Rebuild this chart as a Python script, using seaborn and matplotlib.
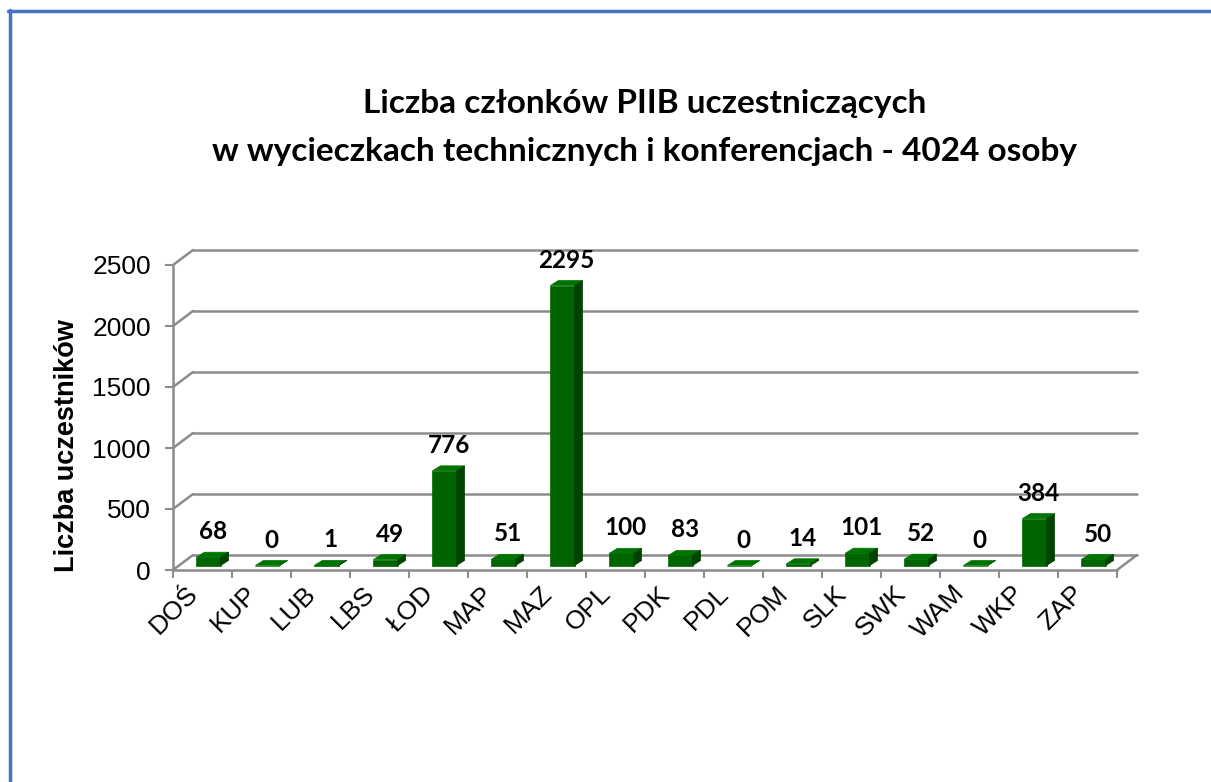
import matplotlib
matplotlib.use("Agg")
import matplotlib.pyplot as plt
import matplotlib.transforms as mtransforms
from matplotlib.lines import Line2D
from matplotlib.patches import Polygon
import numpy as np
import pandas as pd
import seaborn as sns

regions = ["DOŚ", "KUP", "LUB", "LBS", "ŁOD", "MAP", "MAZ", "OPL",
           "PDK", "PDL", "POM", "SLK", "SWK", "WAM", "WKP", "ZAP"]
participants = [68, 0, 1, 49, 776, 51, 2295, 100, 83, 0, 14, 101, 52, 0, 384, 50]
y_ticks = [0, 500, 1000, 1500, 2000, 2500]
title_lines = ["Liczba członków PIIB uczestniczących",
               "w wycieczkach technicznych i konferencjach - 4024 osoby"]
y_label = "Liczba uczestników"

front_col = "#006400"
top_col = "#007300"
side_col = "#004300"
grid_col = "#8c8c8c"

sns.set_theme(style="white")
plt.rcParams["font.family"] = ["Liberation Sans", "DejaVu Sans"]
plt.rcParams["text.color"] = "black"
plt.rcParams["xtick.color"] = "black"
plt.rcParams["ytick.color"] = "black"

fig = plt.figure(figsize=(12.11, 7.82), dpi=100)
ax = fig.add_axes([173 / 1211, 1 - 570 / 782, 944 / 1211, 305 / 782])

df = pd.DataFrame({"region": regions, "count": participants})
sns.barplot(data=df, x="region", y="count", color=front_col, saturation=1,
            width=0.41, linewidth=0, ax=ax, zorder=3)

n = len(regions)
ax.set_xlim(-0.5, n - 0.5)
ax.set_ylim(0, y_ticks[-1])
ax.set_xlabel("")
ax.set_ylabel("")

# 3d offsets in pixels (wall depth, bar position, bar depth)
wall_dx, wall_dy = 20, 15
bar_dx, bar_dy = 6, 4.5
depth_dx, depth_dy = 8, 5
wall_off = mtransforms.ScaledTranslation(wall_dx / 100, wall_dy / 100, fig.dpi_scale_trans)
bar_off = mtransforms.ScaledTranslation(bar_dx / 100, bar_dy / 100, fig.dpi_scale_trans)
ident = mtransforms.IdentityTransform()

# back wall gridlines and the diagonals from the front axis
for v in y_ticks:
    ax.plot([-0.5, n - 0.5], [v, v], color=grid_col, lw=1.8,
            transform=ax.transData + wall_off, clip_on=False, zorder=1)
    p = ax.transData.transform((-0.5, v))
    ax.add_line(Line2D([p[0], p[0] + wall_dx], [p[1], p[1] + wall_dy],
                       color=grid_col, lw=1.8, transform=ident, clip_on=False, zorder=1))
p = ax.transData.transform((n - 0.5, 0))
ax.add_line(Line2D([p[0], p[0] + wall_dx], [p[1], p[1] + wall_dy],
                   color=grid_col, lw=1.8, transform=ident, clip_on=False, zorder=1))

# bars: front face shifted into the floor, plus top and side faces
for patch, val in zip(ax.patches, participants):
    patch.set_transform(ax.transData + bar_off)
    patch.set_clip_on(False)
    patch.set_edgecolor(front_col)
    patch.set_linewidth(0.5)
    x0, w, h = patch.get_x(), patch.get_width(), patch.get_height()
    bl = ax.transData.transform((x0, 0)) + (bar_dx, bar_dy)
    tr = ax.transData.transform((x0 + w, h)) + (bar_dx, bar_dy)
    top = Polygon([(bl[0], tr[1]), (tr[0], tr[1]),
                   (tr[0] + depth_dx, tr[1] + depth_dy), (bl[0] + depth_dx, tr[1] + depth_dy)],
                  closed=True, facecolor=top_col, edgecolor=top_col, lw=0.5,
                  transform=ident, clip_on=False, zorder=3)
    side = Polygon([(tr[0], bl[1]), (tr[0], tr[1]),
                    (tr[0] + depth_dx, tr[1] + depth_dy), (tr[0] + depth_dx, bl[1] + depth_dy)],
                   closed=True, facecolor=side_col, edgecolor=side_col, lw=0.5,
                   transform=ident, clip_on=False, zorder=3)
    ax.add_patch(top)
    ax.add_patch(side)
    ax.annotate(str(val), xy=(x0 + w / 2, h), xycoords=ax.transData + bar_off,
                xytext=(3, 10), textcoords="offset points", ha="center", va="bottom",
                fontsize=17.5, fontweight="bold", family=["Lato", "DejaVu Sans"],
                color="black", zorder=5, annotation_clip=False)

# axes frame
for side_name in ["top", "right"]:
    ax.spines[side_name].set_visible(False)
for side_name in ["left", "bottom"]:
    ax.spines[side_name].set_color(grid_col)
    ax.spines[side_name].set_linewidth(1.8)

ax.set_yticks(y_ticks)
ax.set_yticklabels([str(t) for t in y_ticks])
ax.tick_params(axis="y", which="major", direction="out", length=6, width=1.5,
               color=grid_col, labelcolor="black", labelsize=19, pad=10, left=True)
ax.set_xticks(np.arange(n))
ax.set_xticklabels(regions, rotation=45, ha="right", rotation_mode="default")
ax.set_xticks(np.arange(n + 1) - 0.5, minor=True)
ax.tick_params(axis="x", which="major", length=0, labelsize=19, labelcolor="black", pad=8)
ax.tick_params(axis="x", which="minor", direction="out", length=6, width=1.5,
               color=grid_col, bottom=True)

# title and axis label
fig.text(645 / 1211, 1 - 103 / 782, title_lines[0], ha="center", va="center",
         fontsize=24, fontweight="bold", family=["Lato", "DejaVu Sans"], color="black")
fig.text(645 / 1211, 1 - 152 / 782, title_lines[1], ha="center", va="center",
         fontsize=24, fontweight="bold", family=["Lato", "DejaVu Sans"], color="black")
fig.text(67 / 1211, 1 - 446 / 782, y_label, rotation=90, ha="center", va="center",
         fontsize=19.5, fontweight="bold", color="black")

# blue frame at the top and left
fig.add_artist(Line2D([8 / 1211, 1], [1 - 11 / 782, 1 - 11 / 782],
                      transform=fig.transFigure, color="#4472C4", lw=2.5))
fig.add_artist(Line2D([10 / 1211, 10 / 1211], [1 - 10 / 782, 0],
                      transform=fig.transFigure, color="#4472C4", lw=2.5))

fig.savefig("out.png", dpi=100, facecolor="white")
